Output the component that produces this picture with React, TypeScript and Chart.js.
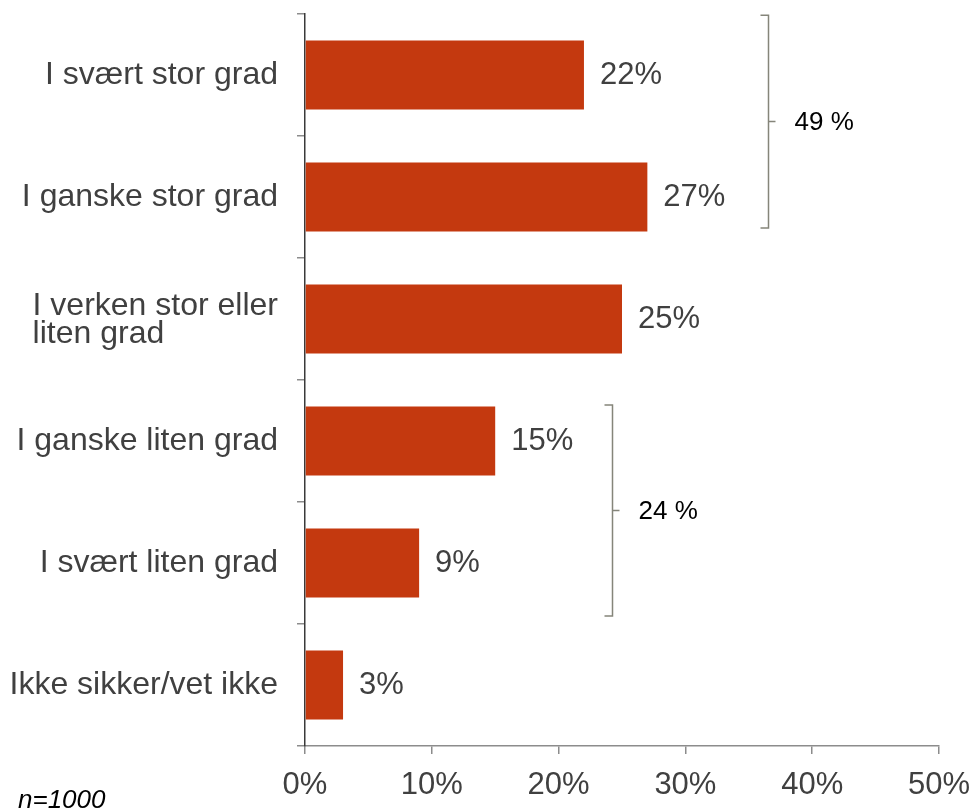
import React, { useEffect, useRef } from "react";
import { Chart, registerables } from "chart.js";

Chart.register(...registerables);

// ---- data ----
const categories: string[][] = [
  ["I svært stor grad"],
  ["I ganske stor grad"],
  ["I verken stor eller", "liten grad"],
  ["I ganske liten grad"],
  ["I svært liten grad"],
  ["Ikke sikker/vet ikke"],
];
const values = [22, 27, 25, 15, 9, 3];
const xTickValues = [0, 10, 20, 30, 40, 50];
const bracketLabels = ["49 %", "24 %"];
const bracketFrom = [0, 3];
const bracketTo = [1, 4];
const sampleNote = "n=1000";

// ---- styles ----
const FONT = "'Liberation Sans', Arial, Helvetica, sans-serif";
const TEXT = "#404040";
const BAR = "#C4390F";
const AXIS_GRAY = "#8c8c8c";
const BRACKET = "#85857a";

// bracket geometry (style): x position in axis units, top/bottom offsets in band units
const bracketGeom = [
  { xVal: 36.5, topOff: -0.49, botOff: 0.254 },
  { xVal: 24.2, topOff: -0.295, botOff: 0.434 },
];

const overlayPlugin = {
  id: "overlay",
  afterDraw(chart: any) {
    const ctx = chart.ctx as CanvasRenderingContext2D;
    const ys = chart.scales.y;
    const xs = chart.scales.x;
    ctx.save();

    // category labels: block right-aligned, lines left-aligned
    ctx.font = `32px ${FONT}`;
    ctx.fillStyle = TEXT;
    ctx.textBaseline = "middle";
    ctx.textAlign = "left";
    const lh = 28;
    categories.forEach((lines, i) => {
      const cy = ys.getPixelForValue(i) + (lines.length > 1 ? 1 : 0);
      const w = Math.max(...lines.map((l) => ctx.measureText(l).width));
      const left = chart.chartArea.left - 27 - w;
      lines.forEach((l, j) => {
        ctx.fillText(l, left, cy + (j - (lines.length - 1) / 2) * lh);
      });
    });

    // value labels
    ctx.font = `31px ${FONT}`;
    const meta = chart.getDatasetMeta(0);
    meta.data.forEach((bar: any, i: number) => {
      ctx.fillText(values[i] + "%", bar.x + 16, bar.y);
    });

    // brackets
    const band = ys.getPixelForValue(1) - ys.getPixelForValue(0);
    bracketLabels.forEach((lab, k) => {
      const g = bracketGeom[k];
      const bx = Math.round(xs.getPixelForValue(g.xVal)) + 0.5;
      const top = ys.getPixelForValue(bracketFrom[k]) + g.topOff * band;
      const bot = ys.getPixelForValue(bracketTo[k]) + g.botOff * band;
      const mid = (top + bot) / 2;
      ctx.strokeStyle = BRACKET;
      ctx.lineWidth = 1.5;
      ctx.beginPath();
      ctx.moveTo(bx - 8, top);
      ctx.lineTo(bx, top);
      ctx.lineTo(bx, bot);
      ctx.lineTo(bx - 8, bot);
      ctx.moveTo(bx, mid);
      ctx.lineTo(bx + 7, mid);
      ctx.stroke();
      ctx.fillStyle = "#000";
      ctx.font = `26px ${FONT}`;
      ctx.textAlign = "left";
      ctx.textBaseline = "middle";
      ctx.fillText(lab, bx + 26, mid + 1);
    });

    // sample note
    ctx.font = `italic 26px ${FONT}`;
    ctx.fillStyle = "#000";
    ctx.textAlign = "left";
    ctx.textBaseline = "alphabetic";
    ctx.fillText(sampleNote, 18, 808);

    ctx.restore();
  },
};

export default function App() {
  const ref = useRef<HTMLCanvasElement | null>(null);

  useEffect(() => {
    if (!ref.current) return;
    const chart = new Chart(ref.current, {
      type: "bar",
      data: {
        labels: categories.map((c) => c.join(" ")),
        datasets: [
          {
            data: values,
            backgroundColor: BAR,
            borderWidth: 0,
            categoryPercentage: 1,
            barPercentage: 0.566,
          },
        ],
      },
      options: {
        indexAxis: "y",
        responsive: false,
        animation: false,
        layout: { padding: { top: 14, right: 36, left: 0, bottom: 0 } },
        plugins: {
          legend: { display: false },
          tooltip: { enabled: false },
        },
        scales: {
          x: {
            type: "linear",
            min: 0,
            max: 50,
            afterBuildTicks: (scale: any) => {
              scale.ticks = xTickValues.map((v) => ({ value: v }));
            },
            afterFit: (scale: any) => {
              scale.height = 64;
              scale.paddingLeft = 0;
              scale.paddingRight = 0;
            },
            ticks: {
              callback: (v: any) => v + "%",
              color: TEXT,
              font: { family: FONT, size: 31 },
              padding: 13,
              maxRotation: 0,
              autoSkip: false,
            },
            grid: {
              drawOnChartArea: false,
              drawTicks: true,
              tickLength: 8,
              color: AXIS_GRAY,
              lineWidth: 1.5,
            },
            border: { display: true, color: AXIS_GRAY, width: 1.5 },
          },
          y: {
            type: "category",
            offset: true,
            afterFit: (scale: any) => {
              scale.width = 305;
              scale.paddingTop = 0;
              scale.paddingBottom = 0;
            },
            ticks: { display: false },
            grid: {
              offset: true,
              drawOnChartArea: false,
              drawTicks: true,
              tickLength: 8,
              color: AXIS_GRAY,
              lineWidth: 1.5,
            },
            border: { display: true, color: "#3a3a3a", width: 1.5 },
          },
        },
      },
      plugins: [overlayPlugin],
    });
    return () => chart.destroy();
  }, []);

  return (
    <div style={{ position: "fixed", left: 0, top: 0, width: 975, height: 810, background: "#fff" }}>
      <canvas ref={ref} width={975} height={810} style={{ display: "block" }} />
    </div>
  );
}
